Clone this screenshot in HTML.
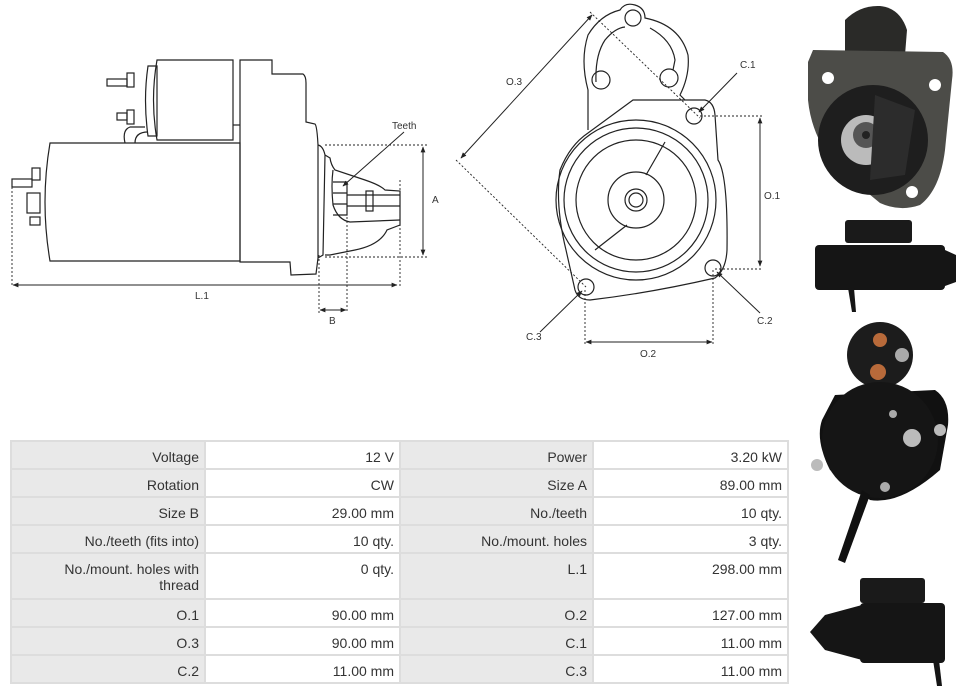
<!DOCTYPE html>
<html><head><meta charset="utf-8"><style>
body{margin:0;width:961px;height:692px;background:#fff;position:relative;overflow:hidden;font-family:"Liberation Sans Narrow","Liberation Sans",sans-serif}
svg{position:absolute;left:0;top:0}
table{position:absolute;left:10px;top:440px;border-collapse:collapse;width:779px;font-size:14px;color:#333}
td{border:2px solid #ddd;text-align:right;padding:7px 5px 0 6px;vertical-align:top;height:19px;line-height:16px}
td.l{background:#e9e9e9}
</style></head><body>
<svg width="961" height="692" viewBox="0 0 961 692">
<defs><marker id="a" viewBox="0 0 10 10" refX="9" refY="5" markerWidth="6" markerHeight="6" orient="auto-start-reverse"><path d="M0,1L10,5L0,9z" fill="#222"/></marker></defs>
<g fill="none" stroke="#222" stroke-width="1.2">
<path d="M50,143 L240,143 L240,261 L50,261 Q40,202 50,143Z"/>
<path d="M157,60 L233,60 L233,140 L157,140 Q150,100 157,60Z"/>
<path d="M148,66 L157,66 L157,136 L148,136 Q143,100 148,66Z"/>
<rect x="127" y="73" width="7" height="14"/><rect x="127" y="110" width="7" height="14"/>
<rect x="107" y="79" width="20" height="7"/><rect x="117" y="113" width="10" height="7"/>
<path d="M125,143 Q122,130 130,127 L145,127 M135,143 Q135,132 148,132"/>
<path d="M240,60 L272,60 L272,74 L303,74 Q306,76 306,83 L306,122 L315,124 Q317,126 318,145 L318,258 L316,274 L291,275 L290,262 L240,262Z"/>
<path d="M233,125 L240,125"/>
<rect x="32" y="168" width="8" height="12"/><rect x="12" y="179" width="20" height="8"/>
<rect x="27" y="193" width="13" height="20"/><rect x="30" y="217" width="10" height="8"/>
<path d="M318,145 Q323,146 325,155 L323,255 L318,258"/>
<path d="M325,155 L330,158 Q331,165 335,170 L365,180 Q380,185 385,190 L400,191 L400,225 L387,230 Q380,245 355,250 L330,255 L325,255"/>
<path d="M333,170 Q331,185 333,205 Q338,220 350,222 L400,220"/>
<path d="M333,182 L347,182 L347,215 L333,215 M333,193 L347,193 M333,204 L347,204"/>
<path d="M347,195 L400,195 M347,206 L400,206"/>
<rect x="366" y="191" width="7" height="20"/>
</g>
<g fill="none" stroke="#222" stroke-width="0.9" stroke-dasharray="2,2">
<path d="M325,145 L428,145 M325,257 L428,257 M12,183 L12,287 M400,180 L400,287 M319,255 L319,313 M347,205 L347,313"/>
<path d="M590,12 L700,118 M456,160 L586,287 M700,116 L763,116 M715,269 L763,269 M585,290 L585,345 M713,270 L713,345"/>
</g>
<g fill="none" stroke="#222" stroke-width="1" marker-start="url(#a)" marker-end="url(#a)">
<path d="M423,147 L423,255"/><path d="M13,285 L397,285"/><path d="M320,310 L346,310"/>
<path d="M760,118 L760,266"/><path d="M586,342 L712,342"/><path d="M592,15 L461,158"/>
</g>
<g fill="none" stroke="#222" stroke-width="1" marker-end="url(#a)">
<path d="M404,132 L343,186"/><path d="M737,73 L699,112"/><path d="M760,313 L717,272"/><path d="M540,332 L582,291"/>
</g>
<g fill="none" stroke="#222" stroke-width="1.2">
<path d="M588,130 L588,90 Q580,60 588,35 Q600,15 620,10 Q625,2 635,5 Q645,8 645,18 Q680,25 688,55 Q690,75 680,95 L685,100"/>
<path d="M596,82 Q595,55 605,40 Q615,28 625,27 M650,28 Q672,40 675,60 L673,70"/>
<circle cx="633" cy="18" r="8"/><circle cx="601" cy="80" r="9"/><circle cx="669" cy="78" r="9"/>
<path d="M633,100 L705,100 Q714,102 715,115 L718,160 Q728,175 727,250 Q726,270 715,278 Q650,293 590,300 Q578,300 575,290 L566,250 Q555,205 560,170 Q570,145 588,133 Z"/>
<circle cx="636" cy="200" r="80"/><circle cx="636" cy="200" r="72"/><circle cx="636" cy="200" r="60"/>
<circle cx="636" cy="200" r="28"/><circle cx="636" cy="200" r="11"/><circle cx="636" cy="200" r="7"/>
<path d="M665,142 L646,175 M627,225 L595,250"/>
<circle cx="694" cy="116" r="8"/><circle cx="713" cy="268" r="8"/><circle cx="586" cy="287" r="8"/>
</g>
<g font-family="Liberation Sans,sans-serif" font-size="10" fill="#333">
<text x="392" y="129">Teeth</text><text x="432" y="203">A</text><text x="195" y="299">L.1</text><text x="329" y="324">B</text>
<text x="506" y="85">O.3</text><text x="740" y="68">C.1</text><text x="764" y="199">O.1</text><text x="757" y="324">C.2</text>
<text x="640" y="357">O.2</text><text x="526" y="340">C.3</text>
</g>
<g>
<path d="M845,20 Q860,5 880,6 Q900,8 907,30 L905,55 L845,55Z" fill="#2a2a28"/>
<path d="M813,50 L943,52 Q955,60 952,80 L945,150 Q940,190 920,205 Q900,212 880,203 L840,170 Q812,140 808,100 L808,62Z" fill="#4c4c48"/>
<circle cx="828" cy="78" r="6" fill="#fff"/><circle cx="935" cy="85" r="6" fill="#fff"/><circle cx="912" cy="192" r="6" fill="#fff"/>
<circle cx="873" cy="140" r="55" fill="#1e1e1e"/><circle cx="866" cy="140" r="25" fill="#bbb"/><circle cx="866" cy="135" r="13" fill="#555"/><circle cx="866" cy="135" r="4" fill="#222"/>
<path d="M875,95 L915,110 L905,175 L870,180Z" fill="#2c2c2c"/>
<rect x="845" y="220" width="67" height="23" rx="3" fill="#1a1a1a"/>
<rect x="815" y="245" width="130" height="45" rx="4" fill="#151515"/>
<path d="M945,250 L956,255 L956,282 L945,286Z" fill="#151515"/>
<path d="M848,288 L852,312 L856,312 L854,288Z" fill="#151515"/>
<circle cx="880" cy="355" r="33" fill="#1c1c1c"/>
<circle cx="880" cy="340" r="7" fill="#b86a3a"/><circle cx="878" cy="372" r="8" fill="#b86a3a"/><circle cx="902" cy="355" r="7" fill="#aaa"/>
<path d="M835,395 L935,390 Q950,400 948,425 L940,470 Q900,505 870,500 L830,470 Q815,440 822,420Z" fill="#111"/>
<circle cx="880" cy="440" r="58" fill="#151515"/>
<circle cx="912" cy="438" r="9" fill="#bbb"/><circle cx="817" cy="465" r="6" fill="#bbb"/><circle cx="940" cy="430" r="6" fill="#bbb"/><circle cx="885" cy="487" r="5" fill="#aaa"/><circle cx="893" cy="414" r="4" fill="#aaa"/>
<path d="M862,490 L838,560 L845,563 L870,495Z" fill="#111"/>
<rect x="860" y="578" width="65" height="25" rx="3" fill="#1a1a1a"/>
<rect x="860" y="603" width="85" height="60" rx="4" fill="#151515"/>
<path d="M862,605 L825,615 L810,632 L825,650 L862,660Z" fill="#151515"/>
<path d="M933,660 L937,686 L942,686 L939,660Z" fill="#151515"/>
</g>
</svg>
<table>
<tr><td class="l" style="width:181px">Voltage</td><td style="width:182px">12 V</td><td class="l" style="width:180px">Power</td><td>3.20 kW</td></tr>
<tr><td class="l">Rotation</td><td>CW</td><td class="l">Size A</td><td>89.00 mm</td></tr>
<tr><td class="l">Size B</td><td>29.00 mm</td><td class="l">No./teeth</td><td>10 qty.</td></tr>
<tr><td class="l">No./teeth (fits into)</td><td>10 qty.</td><td class="l">No./mount. holes</td><td>3 qty.</td></tr>
<tr><td class="l" style="height:37px">No./mount. holes with<br>thread</td><td>0 qty.</td><td class="l">L.1</td><td>298.00 mm</td></tr>
<tr><td class="l">O.1</td><td>90.00 mm</td><td class="l">O.2</td><td>127.00 mm</td></tr>
<tr><td class="l">O.3</td><td>90.00 mm</td><td class="l">C.1</td><td>11.00 mm</td></tr>
<tr><td class="l">C.2</td><td>11.00 mm</td><td class="l">C.3</td><td>11.00 mm</td></tr>
</table>
</body></html>
